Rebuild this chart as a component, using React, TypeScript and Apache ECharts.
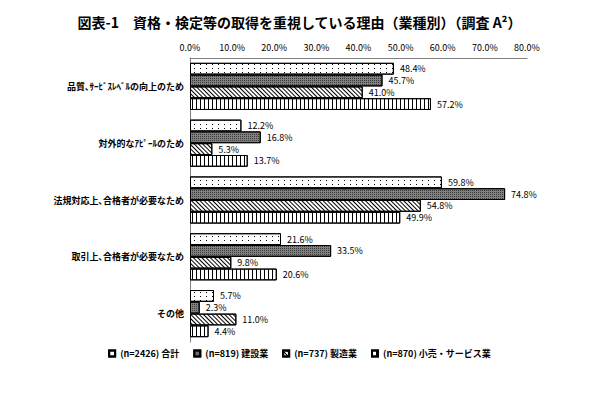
import React, { useEffect, useRef } from "react";
import * as echarts from "echarts";

const categories = [
  "品質､ｻｰﾋﾞｽﾚﾍﾞﾙの向上のため",
  "対外的なｱﾋﾟｰﾙのため",
  "法規対応上､合格者が必要なため",
  "取引上､合格者が必要なため",
  "その他",
];
const seriesNames = ["(n=2426) 合計", "(n=819) 建設業", "(n=737) 製造業", "(n=870) 小売・サービス業"];
const total = [48.4, 12.2, 59.8, 21.6, 5.7];
const construction = [45.7, 16.8, 74.8, 33.5, 2.3];
const manufacturing = [41.0, 5.3, 54.8, 9.8, 11.0];
const retail = [57.2, 13.7, 49.9, 20.6, 4.4];
const xTicks = [0, 10, 20, 30, 40, 50, 60, 70, 80];

const font = "'Liberation Sans Narrow', 'Noto Sans CJK JP', sans-serif";

export default function App() {
  const ref = useRef<HTMLDivElement>(null);
  useEffect(() => {
    if (!ref.current) return;
    const chart = echarts.init(ref.current, null, { renderer: "svg" });
    const label = {
      show: true,
      position: "right",
      distance: 6,
      fontSize: 9,
      color: "#000",
      fontFamily: font,
      formatter: (p: any) => p.value.toFixed(1) + "%",
    };
    const styles = [
      {
        color: "#ffffff",
        decal: { symbol: "rect", symbolSize: 1, dashArrayX: [1, 5], dashArrayY: [1, 3], color: "#000" },
      },
      {
        color: "#808080",
        decal: { symbol: "rect", symbolSize: 1, dashArrayX: [1, 1], dashArrayY: [1, 1], color: "#3a3a3a" },
      },
      {
        color: "#ffffff",
        decal: { symbol: "rect", symbolSize: 1, dashArrayX: [1, 0], dashArrayY: [1, 2], rotation: Math.PI / 4, color: "#000" },
      },
      {
        color: "#ffffff",
        decal: { symbol: "rect", symbolSize: 1, dashArrayX: [1, 3], dashArrayY: [1, 0], color: "#000" },
      },
    ];
    const datas = [total, construction, manufacturing, retail];
    chart.setOption({
      animation: false,
      title: {
        text: "図表-1　資格・検定等の取得を重視している理由（業種別）（調査 A²）",
        left: "center",
        top: 2,
        textStyle: { fontSize: 14, fontWeight: "bold", color: "#000", fontFamily: "'Noto Sans CJK JP', sans-serif" },
      },
      legend: {
        bottom: 22,
        left: "center",
        itemWidth: 6,
        itemHeight: 6,
        itemGap: 14,
        icon: "rect",
        textStyle: { fontSize: 9, color: "#000", fontWeight: "bold", fontFamily: font },
        data: seriesNames,
      },
      grid: { left: 182, right: 64, top: 50, bottom: 43, containLabel: false },
      xAxis: {
        type: "value",
        position: "top",
        min: 0,
        max: 80,
        interval: 10,
        axisLine: { show: true, lineStyle: { color: "#808080" } },
        axisTick: { show: false },
        splitLine: { show: false },
        axisLabel: {
          fontSize: 9,
          color: "#000",
          fontFamily: font,
          margin: 6,
          formatter: (v: number) => (xTicks.includes(v) ? v.toFixed(1) + "%" : ""),
        },
      },
      yAxis: {
        type: "category",
        data: categories,
        inverse: true,
        axisLine: { show: true, lineStyle: { color: "#808080" } },
        axisTick: { show: false },
        axisLabel: { fontSize: 9, fontWeight: "bold", color: "#000", fontFamily: "'Noto Sans CJK JP', sans-serif", margin: 6 },
      },
      series: datas.map((d, i) => ({
        type: "bar",
        name: seriesNames[i],
        data: d,
        barGap: "0%",
        barCategoryGap: "17%",
        itemStyle: { ...styles[i], borderColor: "#000", borderWidth: 1 },
        label,
      })),
    });
    return () => chart.dispose();
  }, []);
  return <div ref={ref} style={{ width: 583, height: 377 }} />;
}
